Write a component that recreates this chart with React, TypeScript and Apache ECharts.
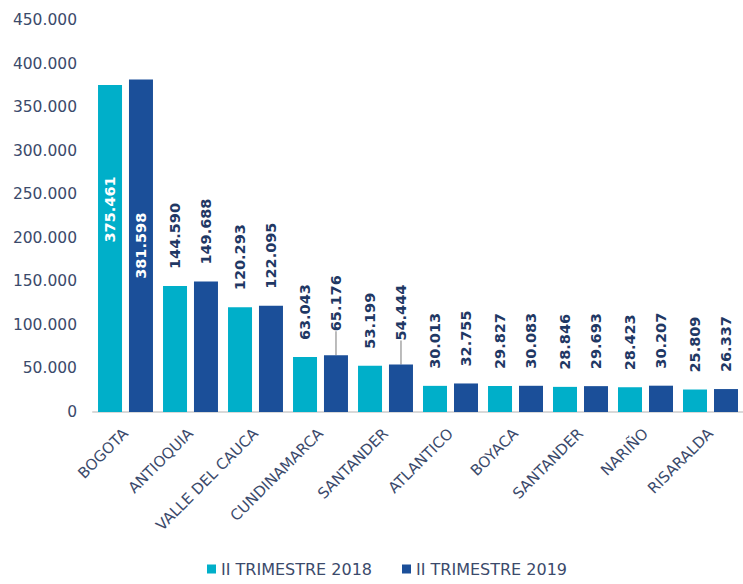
import React, { useEffect, useRef } from "react";
import * as echarts from "echarts";

const categories = [
  "BOGOTA",
  "ANTIOQUIA",
  "VALLE DEL CAUCA",
  "CUNDINAMARCA",
  "SANTANDER",
  "ATLANTICO",
  "BOYACA",
  "SANTANDER",
  "NARIÑO",
  "RISARALDA",
];
const series2018 = [375461, 144590, 120293, 63043, 53199, 30013, 29827, 28846, 28423, 25809];
const series2019 = [381598, 149688, 122095, 65176, 54444, 32755, 30083, 29693, 30207, 26337];
const seriesNames = ["II TRIMESTRE 2018", "II TRIMESTRE 2019"];
const yTicks = { min: 0, max: 450000, interval: 50000 };

const FONT = "DejaVu Sans";
const AXIS_COLOR = "#3B4A6B";
const LABEL_COLOR = "#1F3864";
const C1 = "#00AFC9";
const C2 = "#1B4F99";

const fmt = (v: number) =>
  v === 0 ? "0" : String(Math.round(v)).replace(/\B(?=(\d{3})+(?!\d))/g, ".");

const baseLabel = {
  show: true,
  position: "top",
  rotate: 90,
  align: "left",
  verticalAlign: "middle",
  distance: 17,
  color: LABEL_COLOR,
  fontFamily: FONT,
  fontWeight: "bold",
  fontSize: 14.5,
  formatter: (p: any) => fmt(p.value),
};

const leaderItems = [3, 4];

function makeData(values: number[], seriesIdx: number) {
  return values.map((v, i) => {
    if (i === 0) {
      return {
        value: v,
        label: {
          position: "inside",
          align: "center",
          color: "#FFFFFF",
          offset: seriesIdx === 0 ? [39, 0] : [0, 0],
        },
      };
    }
    if (seriesIdx === 1 && leaderItems.indexOf(i) >= 0) {
      return {
        value: v,
        label: { distance: 24 },
        labelLine: { show: true, lineStyle: { color: "#A6A6A6", width: 1.5 } },
      };
    }
    return { value: v };
  });
}

export default function App() {
  const ref = useRef<HTMLDivElement>(null);
  useEffect(() => {
    if (!ref.current) return;
    const chart = echarts.init(ref.current, undefined, { renderer: "svg" });
    chart.setOption({
      animation: false,
      textStyle: { fontFamily: FONT },
      grid: { left: 93, top: 20, bottom: 172, width: 658 },
      legend: {
        data: seriesNames,
        left: 202,
        bottom: 2,
        icon: "rect",
        itemWidth: 9,
        itemHeight: 9,
        itemGap: 30,
        textStyle: { color: AXIS_COLOR, fontSize: 16, fontFamily: FONT },
      },
      xAxis: {
        type: "category",
        data: categories,
        axisLine: { show: true, lineStyle: { color: "#D9D9D9", width: 2 } },
        axisTick: { show: false },
        axisLabel: {
          rotate: 45,
          interval: 0,
          margin: 19,
          color: AXIS_COLOR,
          fontSize: 15,
          fontFamily: FONT,
        },
      },
      yAxis: {
        type: "value",
        min: yTicks.min,
        max: yTicks.max,
        interval: yTicks.interval,
        splitLine: { show: false },
        axisLine: { show: false },
        axisTick: { show: false },
        axisLabel: {
          margin: 16,
          color: AXIS_COLOR,
          fontSize: 15.5,
          fontFamily: FONT,
          formatter: (v: number) => fmt(v),
        },
      },
      series: [
        {
          name: seriesNames[0],
          type: "bar",
          data: makeData(series2018, 0),
          barWidth: 24,
          barGap: "29%",
          itemStyle: { color: C1 },
          label: baseLabel,
        },
        {
          name: seriesNames[1],
          type: "bar",
          data: makeData(series2019, 1),
          barWidth: 24,
          barGap: "29%",
          itemStyle: { color: C2 },
          label: baseLabel,
        },
      ],
    });
    return () => chart.dispose();
  }, []);
  return (
    <div
      ref={ref}
      style={{ position: "absolute", left: 0, top: 0, width: 743, height: 584 }}
    />
  );
}
